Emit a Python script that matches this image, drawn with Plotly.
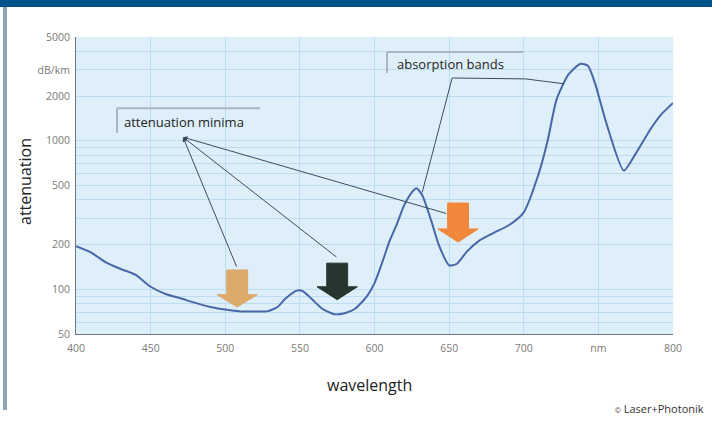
import math
import plotly.graph_objects as go

# Spectral attenuation of a PMMA polymer optical fibre
wavelength_nm = [400, 410, 420, 430, 440, 450, 460, 470, 480, 490, 500, 510, 520, 528,
                 535, 540, 548, 552, 558, 565, 573, 580, 587, 595, 600, 605, 610, 615,
                 620, 625, 628, 632, 638, 643, 650, 655, 662, 670, 680, 690, 700, 710,
                 716, 722, 730, 738, 743, 748, 755, 767, 775, 785, 792, 800]
attenuation_db_km = [195, 177, 152, 137, 125, 104, 93, 87, 81, 76, 73, 71, 71, 71,
                     76, 86, 98, 97, 86, 74, 68, 69, 74, 90, 110, 150, 210, 275,
                     370, 450, 480, 430, 290, 200, 145, 148, 180, 212, 240, 270, 330, 600,
                     1000, 1900, 2800, 3300, 3200, 2400, 1350, 630, 820, 1200, 1500, 1800]

# Attenuation minima marked by block arrows
minima_nm = [508, 575, 656]
arrow_top = [135, 150, 381]
arrow_neck = [92, 104, 255]
arrow_tip = [76, 85, 208]
arrow_colors = ["#dcab6c", "#26352f", "#f0873a"]

x_ticks = [400, 450, 500, 550, 600, 650, 700, 750, 800]
x_tick_text = ["400", "450", "500", "550", "600", "650", "700", "nm", "800"]
y_ticks = [50, 100, 200, 500, 1000, 2000, 3000, 5000]
y_tick_text = ["50", "100", "200", "500", "1000", "2000", "dB/km", "5000"]
y_minor = [60, 70, 80, 90, 300, 400, 600, 700, 800, 900, 4000]

W, H = 712, 422
L, R, T, B = 76, 39, 37, 88
PW, PH = W - L - R, H - T - B


def px(x):
    return (x - L) / PW


def py(y):
    return (H - B - y) / PH


lg = math.log10
line_col = "#3e4c60"

fig = go.Figure()

fig.add_trace(go.Scatter(x=wavelength_nm, y=attenuation_db_km, mode="lines",
                         line=dict(color="#4867a6", width=2, shape="spline", smoothing=0.6),
                         hoverinfo="skip", showlegend=False))

# block arrows
SHAFT, HEAD = 7, 13.5
for c, top, neck, tip, col in zip(minima_nm, arrow_top, arrow_neck, arrow_tip, arrow_colors):
    xs = [c - SHAFT, c + SHAFT, c + SHAFT, c + HEAD, c, c - HEAD, c - SHAFT, c - SHAFT]
    ys = [top, top, neck, neck, tip, neck, neck, top]
    fig.add_trace(go.Scatter(x=xs, y=ys, mode="lines", fill="toself", fillcolor=col,
                             line=dict(color=col, width=1), hoverinfo="skip",
                             showlegend=False))

# leader lines of "absorption bands"
fig.add_trace(go.Scatter(x=[632, 652, 701, 727], y=[450, 2648, 2612, 2420], mode="lines",
                         line=dict(color=line_col, width=1), hoverinfo="skip",
                         showlegend=False))

annotations = []
# leader lines of "attenuation minima" with an arrowhead at the label
label_pt = (471.7, 1058)
for ex, ey in [(508, 139), (575.5, 162), (649, 322)]:
    annotations.append(dict(x=label_pt[0], y=lg(label_pt[1]), ax=ex, ay=lg(ey),
                            xref="x", yref="y", axref="x", ayref="y", text="",
                            showarrow=True, arrowhead=2, arrowsize=0.9, arrowwidth=1,
                            arrowcolor=line_col))

annotations += [
    dict(x=430.8, y=lg(1340), xref="x", yref="y", text="attenuation minima",
         showarrow=False, xanchor="left", yanchor="middle",
         font=dict(family="Open Sans", size=13, color="#222")),
    dict(x=613.7, y=lg(3290), xref="x", yref="y", text="absorption bands",
         showarrow=False, xanchor="left", yanchor="middle",
         font=dict(family="Open Sans", size=13, color="#222")),
    dict(x=px(25), y=py(182), xref="paper", yref="paper", text="attenuation",
         textangle=-90, showarrow=False, xanchor="center", yanchor="middle",
         font=dict(family="Open Sans", size=16, color="#222")),
    dict(x=px(369), y=py(385), xref="paper", yref="paper", text="wavelength",
         showarrow=False, xanchor="center", yanchor="middle",
         font=dict(family="Open Sans", size=16, color="#222")),
    dict(x=px(706), y=py(408), xref="paper", yref="paper",
         text="<span style='font-size:7px'>©</span> Laser+Photonik",
         showarrow=False, xanchor="right", yanchor="middle",
         font=dict(family="Open Sans", size=11, color="#333")),
]

bracket = "#aab5bf"
shapes = [
    # label brackets
    dict(type="line", xref="x", yref="y", x0=427.5, x1=427.5, y0=1657, y1=1131,
         line=dict(color=bracket, width=2)),
    dict(type="line", xref="x", yref="y", x0=427.5, x1=523.3, y0=1657, y1=1657,
         line=dict(color=bracket, width=2)),
    dict(type="line", xref="x", yref="y", x0=608.4, x1=608.4, y0=3960, y1=2860,
         line=dict(color=bracket, width=2)),
    dict(type="line", xref="x", yref="y", x0=608.4, x1=699.5, y0=3960, y1=3960,
         line=dict(color=bracket, width=2)),
    # page frame
    dict(type="rect", xref="paper", yref="paper", x0=px(0), x1=px(W), y0=py(7), y1=py(0),
         fillcolor="#00538b", line=dict(width=0), layer="above"),
    dict(type="rect", xref="paper", yref="paper", x0=px(3), x1=px(7), y0=py(410), y1=py(7),
         fillcolor="#8ca5b9", line=dict(width=0), layer="above"),
]

axis_font = dict(family="Open Sans", size=10.5, color="#7a7a7a")
grid = "#bcdcf0"

fig.update_layout(
    width=W, height=H, autosize=False,
    margin=dict(l=L, r=R, t=T, b=B, pad=0),
    paper_bgcolor="white", plot_bgcolor="#deeffa",
    annotations=annotations, shapes=shapes, showlegend=False,
    xaxis=dict(range=[400, 800], tickvals=x_ticks, ticktext=x_tick_text,
               tickfont=axis_font, showgrid=True, gridcolor=grid, gridwidth=1,
               showline=True, linecolor="#6d7782", linewidth=1, zeroline=False,
               ticks="outside", ticklen=4, tickcolor="rgba(0,0,0,0)"),
    yaxis=dict(type="log", range=[lg(50), lg(5000)], tickvals=y_ticks,
               ticktext=y_tick_text, tickfont=axis_font, showgrid=True, gridcolor=grid,
               gridwidth=1, showline=True, linecolor="#6d7782", linewidth=1,
               zeroline=False, ticks="outside", ticklen=3, tickcolor="rgba(0,0,0,0)",
               minor=dict(tickvals=y_minor, showgrid=True, gridcolor=grid, gridwidth=1,
                          ticks="")),
)

fig.write_html("out.html")
